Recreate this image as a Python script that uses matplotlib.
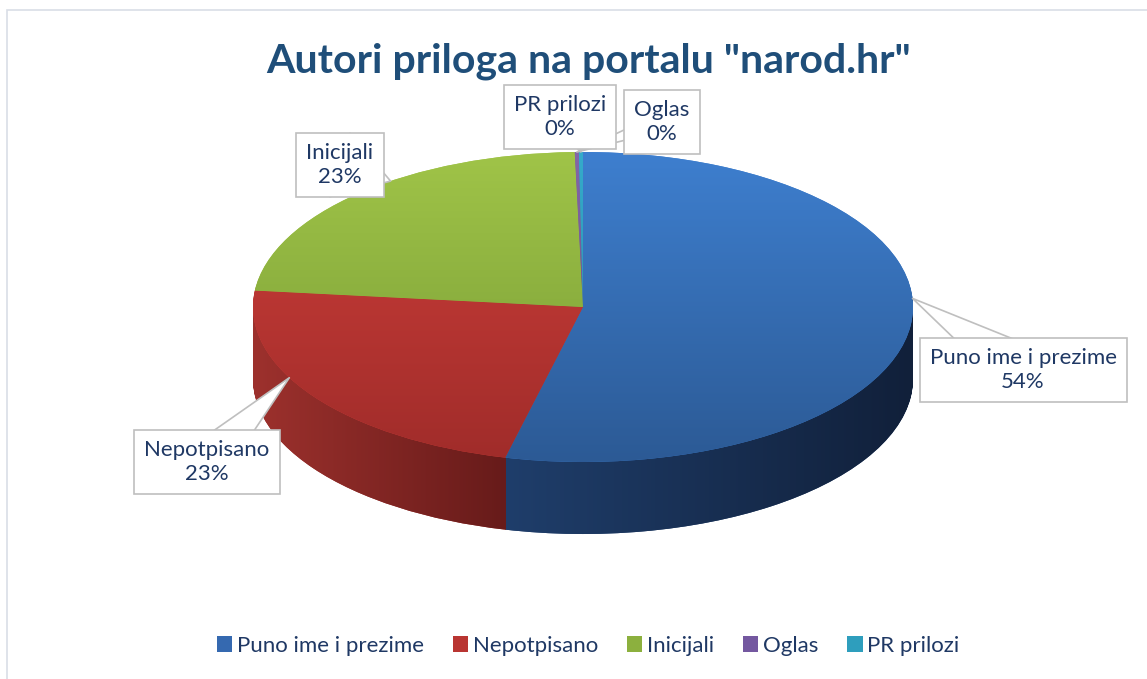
import numpy as np
import matplotlib
matplotlib.use('Agg')
import matplotlib.pyplot as plt
from matplotlib.path import Path
from matplotlib.patches import PathPatch, Rectangle, Patch
from matplotlib.colors import to_rgb

plt.rcParams['font.family'] = ['Lato', 'DejaVu Sans']

# data
labels = ['Puno ime i prezime', 'Nepotpisano', 'Inicijali', 'Oglas', 'PR prilozi']
values = [54, 23, 23, 0.2, 0.2]

# colours (top surface light/dark, side light/dark)
top_light = ['#3e7fcf', '#cf3f3a', '#a0c448', '#8466a8', '#35abcb']
top_dark = ['#2c5a95', '#a02c2a', '#769a35', '#5f4a7b', '#27869f']
side_light = ['#1f3e6b', '#9d312d', '#6f8f30', '#5a4577', '#207890']
side_dark = ['#11203a', '#671b1a', '#4f6a20', '#3e2f55', '#165566']
legend_colors = ['#3569b0', '#b93532', '#8cb03e', '#7458a0', '#2e9ebd']
text_col = '#1f3864'

W, H = 1147, 679
cx, cy = 583, 307      # pie centre in pixels (from top)
rx, ry = 330, 155      # ellipse radii in pixels
depth = 72             # thickness in pixels

fig = plt.figure(figsize=(W / 100, H / 100), dpi=100)
ax = fig.add_axes([0, 0, 1, 1])

dz = depth / ry
n_layers = 60

# side walls: stacked pies going down
side_paths = []
for k in range(n_layers, 0, -1):
    ws, _ = ax.pie(values, center=(0, -dz * k / n_layers), radius=1, startangle=90,
                   counterclock=False, colors=side_light,
                   wedgeprops=dict(linewidth=0, zorder=1), frame=True)
    side_paths += [w.get_path() for w in ws]

body = Path.make_compound_path(*side_paths)
body_clip = PathPatch(body, fc='none', ec='none', transform=ax.transData)
ax.add_patch(body_clip)


def grad_img(c1, c2, horizontal=True):
    a = np.array(to_rgb(c1))
    b = np.array(to_rgb(c2))
    t = np.linspace(0, 1, 256)[:, None]
    g = a * (1 - t) + b * t
    if horizontal:
        return g[None, :, :]
    return g[:, None, :]


# top surface
top_wedges, _ = ax.pie(values, center=(0, 0), radius=1, startangle=90, counterclock=False,
                       colors=top_light, wedgeprops=dict(linewidth=0, zorder=3), frame=True)

# horizontal gradient on the visible (front) rim of each slice
for i, w in enumerate(top_wedges):
    ang = np.deg2rad(np.linspace(w.theta1, w.theta2, 500))
    front = ang[np.sin(ang) <= 0]
    if len(front) < 2:
        continue
    x0, x1 = np.cos(front).min(), np.cos(front).max()
    im = ax.imshow(grad_img(side_light[i], side_dark[i]), extent=(x0, x1, -1 - dz - 0.05, 0.2),
                   aspect='auto', zorder=2, interpolation='bilinear')
    im.set_clip_path(body_clip)

for i, w in enumerate(top_wedges):
    im = ax.imshow(grad_img(top_light[i], top_dark[i], horizontal=False), extent=(-1, 1, -1, 1),
                   origin='upper', aspect='auto', zorder=4, interpolation='bilinear')
    im.set_clip_path(w)

ax.set_aspect('auto')
ax.set_xlim(-cx / rx, (W - cx) / rx)
ax.set_ylim((cy - H) / ry, cy / ry)
ax.axis('off')

# data labels with callouts
total = sum(values)
label_pos = [(1023, 370), (207, 462), (340, 165), (662, 122), (560, 117)]
anchor_shift = [10, -8, -7, 0, 0]     # degrees, where the callout touches the rim
tails = [2.3, 2.0, 3.0, 0.8, 1.0]
for i, w in enumerate(top_wedges):
    mid = np.deg2rad((w.theta1 + w.theta2) / 2 + anchor_shift[i])
    pct = values[i] / total * 100
    ax.annotate('{}\n{:.0f}%'.format(labels[i], pct),
                xy=(np.cos(mid), np.sin(mid)),
                xytext=(label_pos[i][0], H - label_pos[i][1]), textcoords='figure pixels',
                ha='center', va='center', fontsize=16, color=text_col, linespacing=1.3,
                bbox=dict(boxstyle='square,pad=0.45', fc='white', ec='#bfbfbf', lw=1.2),
                arrowprops=dict(arrowstyle='wedge,tail_width={}'.format(tails[i]),
                                fc='white', ec='#bfbfbf', lw=1.2, shrinkA=0, shrinkB=0,
                                patchA=None),
                zorder=6)

fig.text(0.513, (H - 61) / H, 'Autori priloga na portalu "narod.hr"', ha='center', va='center',
         fontsize=29.5, fontweight='bold', color='#1f4e79')

handles = [Patch(facecolor=c, edgecolor='none') for c in legend_colors]
fig.legend(handles, labels, loc='center', bbox_to_anchor=(588 / W, (H - 646) / H), ncol=5,
           frameon=False, fontsize=16, labelcolor=text_col, handlelength=0.7, handleheight=0.7,
           handletextpad=0.2, columnspacing=1.3)

fig.add_artist(Rectangle((7 / W, -0.1), 1.2, (H - 10) / H + 0.1, transform=fig.transFigure,
                         fill=False, ec='#d9dee6', lw=1.2))

fig.savefig('out.png', dpi=100)
